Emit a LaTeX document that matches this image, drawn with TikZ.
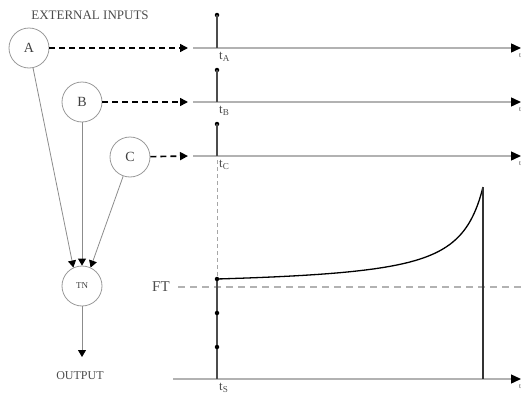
\documentclass[tikz,border=0pt]{standalone}
\usepackage{fontspec}
\setmainfont{Liberation Serif}
\usetikzlibrary{arrows.meta}
\begin{document}
\begin{tikzpicture}[x=1pt,y=-1pt,
  inp/.style={circle, draw=black!40, line width=0.8pt, minimum size=40pt, inner sep=0pt, font=\fontsize{14}{14}\selectfont, text=black!75},
  txt/.style={text=black!70, inner sep=0pt},
  axisline/.style={draw=black!30, line width=1.4pt, -{Triangle[length=10pt,width=9pt,color=black]}},
  dasharrow/.style={draw=black, line width=1.6pt, dash pattern=on 6pt off 4pt, -{Triangle[length=8pt,width=8pt]}},
  spikeline/.style={draw=black!70, line width=2.4pt},
  dotnode/.style={circle, fill=black, inner sep=0pt, minimum size=4.5pt},
  linkline/.style={draw=black!45, line width=0.8pt, -{Triangle[length=7pt,width=8pt,color=black]}},
  tlbl/.style={txt, anchor=north west, font=\fontsize{13}{13}\selectfont},
  tend/.style={txt, anchor=west, font=\fontsize{7}{7}\selectfont},
  guide/.style={draw=black!35, line width=0.8pt, dash pattern=on 4pt off 3pt},
  ftline/.style={draw=black!30, line width=1.6pt, dash pattern=on 7pt off 5pt}
]
\useasboundingbox (0,0) rectangle (523,399);

% title
\node[txt, font=\fontsize{13}{13}\selectfont] (title) at (90,15) {EXTERNAL INPUTS};

% input nodes
\node[inp] (A) at (29,48) {A};
\node[inp] (B) at (82,102) {B};
\node[inp] (C) at (130,157) {C};
\node[inp, font=\fontsize{9}{9}\selectfont] (TN) at (82,286) {TN};

% coordinates
\coordinate (eA) at (188,48);
\coordinate (eB) at (188,102);
\coordinate (eC) at (188,156);
\coordinate (aA0) at (193,48); \coordinate (aA1) at (521,48);
\coordinate (aB0) at (193,102); \coordinate (aB1) at (521,102);
\coordinate (aC0) at (193,156); \coordinate (aC1) at (521,156);
\coordinate (aS0) at (173,379); \coordinate (aS1) at (521,379);
\coordinate (sA) at (217,48);
\coordinate (sB) at (217,102);
\coordinate (sC) at (217,156);
\coordinate (sS) at (217,379);
\coordinate (gC) at (217,160);
\coordinate (gS) at (217,279);
\coordinate (ft0) at (178,287); \coordinate (ft1) at (523,287);
\coordinate (outp) at (82,357);
\coordinate (pk) at (483,187);
\coordinate (pkb) at (483,379);

% dashed input arrows
\draw[dasharrow] (A) -- (eA);
\draw[dasharrow] (B) -- (eB);
\draw[dasharrow] (C) -- (eC);

% time axes
\draw[axisline] (aA0) -- (aA1);
\draw[axisline] (aB0) -- (aB1);
\draw[axisline] (aC0) -- (aC1);
\draw[axisline] (aS0) -- (aS1);

\node[tend] (tA1) at (519,56) {t};
\node[tend] (tB1) at (519,110) {t};
\node[tend] (tC1) at (519,164) {t};
\node[tend] (tS1) at (519,387) {t};

% spikes
\node[dotnode] (dA) at (217,15) {};
\node[dotnode] (dB) at (217,70) {};
\node[dotnode] (dC) at (217,124) {};
\draw[spikeline] (sA) -- (dA.center);
\draw[spikeline] (sB) -- (dB.center);
\draw[spikeline] (sC) -- (dC.center);

\node[tlbl] (tA) at (219,52) {t\textsubscript{A}};
\node[tlbl] (tB) at (219,106) {t\textsubscript{B}};
\node[tlbl] (tC) at (219,160) {t\textsubscript{C}};
\node[tlbl] (tS) at (219,383) {t\textsubscript{S}};

% guide
\draw[guide] (gC) -- (gS);

% FT threshold
\node[txt, font=\fontsize{15}{15}\selectfont] (FT) at (161,287) {FT};
\draw[ftline] (ft0) -- (ft1);

% links to TN
\draw[linkline] (A) -- (TN.115);
\draw[linkline] (B) -- (TN.90);
\draw[linkline] (C) -- (TN.65);
\draw[linkline] (TN) -- (outp);
\node[txt, font=\fontsize{12}{12}\selectfont] (out) at (80,376) {OUTPUT};

% potential
\draw[spikeline] (sS) -- (gS);
\node[dotnode] (d1) at (gS) {};
\node[dotnode] (d2) at (217,313) {};
\node[dotnode] (d3) at (217,347) {};
\draw[black, line width=1.3pt] plot[domain=217:483, samples=150] (\x, {279 - 2516*(1/(508-\x) - 1/291)});
\draw[draw=black!80, line width=1.8pt] (pk) -- (pkb);
\end{tikzpicture}
\end{document}
